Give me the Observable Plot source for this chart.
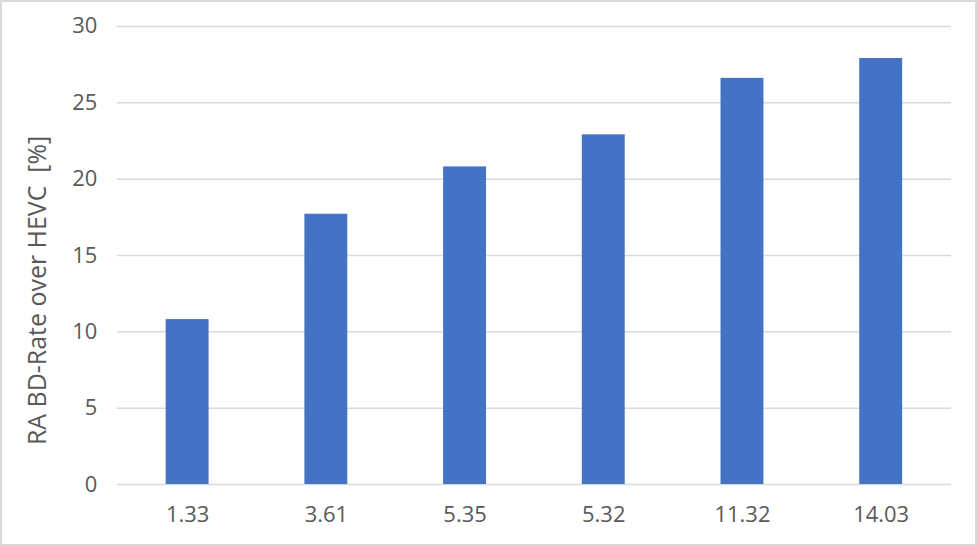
<!DOCTYPE html>
<html><head><meta charset="utf-8">
<script src="https://cdn.jsdelivr.net/npm/d3@7"></script>
<script src="https://cdn.jsdelivr.net/npm/@observablehq/plot@0.6"></script>
<style>
html,body{margin:0;padding:0;background:#fff;}
#frame{width:977px;height:546px;box-sizing:border-box;border:2px solid #d9d9d9;position:relative;overflow:hidden;}
#chart{position:absolute;left:-2px;top:-2px;}
#chart text{white-space:pre;}
</style></head>
<body><div id="frame"><div id="chart"></div></div>
<script>
const categories = ["1.33", "3.61", "5.35", "5.32", "11.32", "14.03"];
const values = [10.8, 17.7, 20.8, 22.9, 26.6, 27.9];
const yTicks = [0, 5, 10, 15, 20, 25, 30];
const yLabel = "RA BD-Rate over HEVC  [%]";

const data = categories.map((c, i) => ({cat: c, val: values[i]}));

const chart = Plot.plot({
  width: 977,
  height: 546,
  marginTop: 26,
  marginBottom: 61,
  marginLeft: 117,
  marginRight: 24,
  style: {fontFamily: "'Segoe UI','Open Sans',sans-serif", fontSize: "22px", color: "#595959", background: "transparent"},
  x: {domain: categories, paddingInner: 0.69, paddingOuter: 0.345, label: null},
  y: {domain: [0, 30], ticks: yTicks, label: null},
  marks: [
    Plot.gridY(yTicks, {stroke: "#d9d9d9", strokeOpacity: 1, strokeWidth: 1.5}),
    Plot.barY(data, {x: "cat", y: "val", fill: "#4472c4"}),
    Plot.axisY({ticks: yTicks, tickSize: 0, tickPadding: 20, label: null, fill: "#595959", fontSize: 22}),
    Plot.axisX({tickSize: 0, tickPadding: 22, label: null, fill: "#595959", fontSize: 22}),
    Plot.text([yLabel], {frameAnchor: "left", textAnchor: "middle", dx: -79, dy: 35, rotate: -90, text: d => d, fill: "#595959", fontSize: 25})
  ]
});
document.getElementById("chart").appendChild(chart);
</script></body></html>
